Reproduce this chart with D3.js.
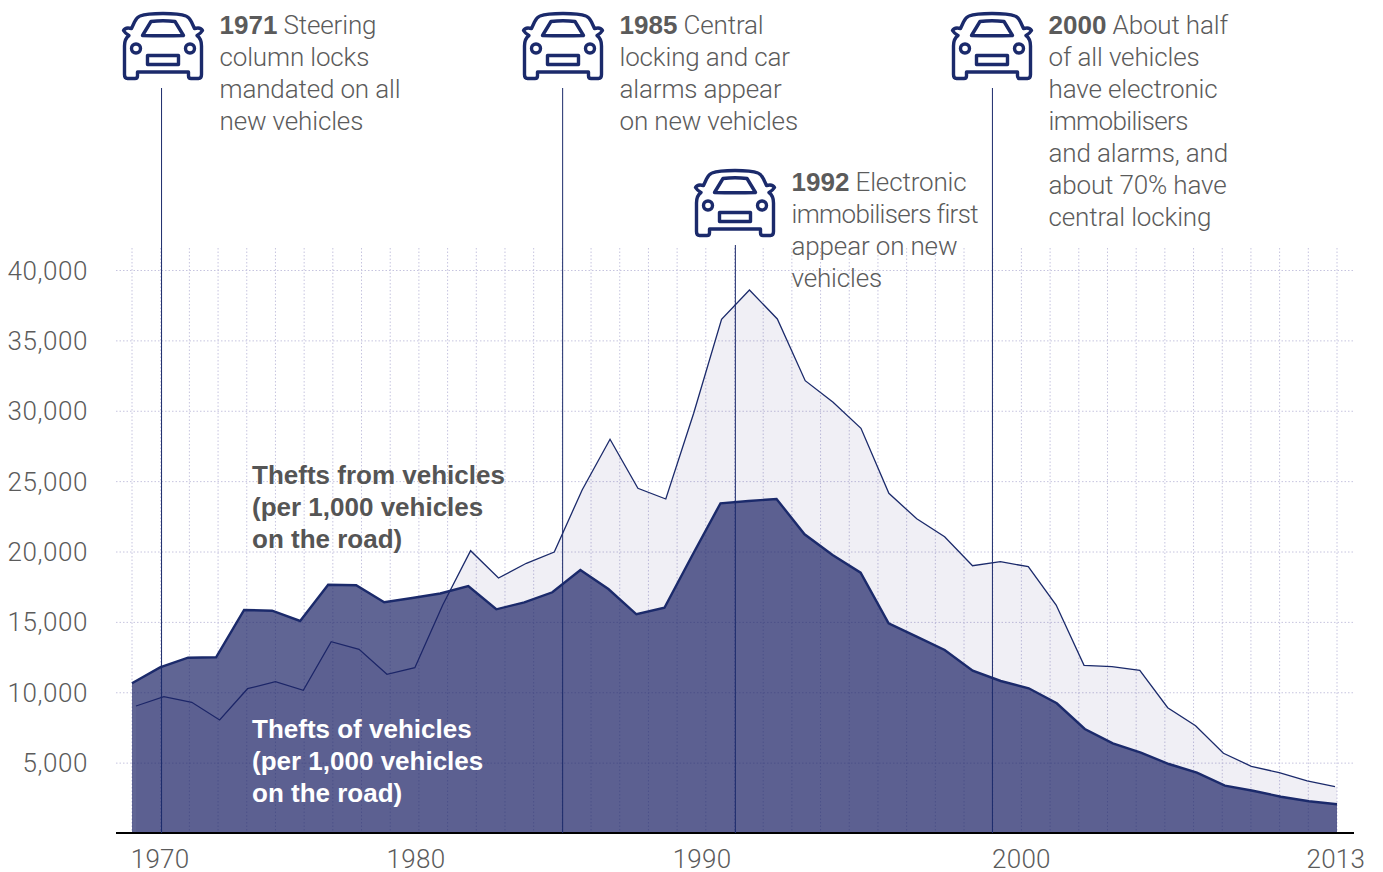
<!DOCTYPE html>
<html>
<head>
<meta charset="utf-8">
<script src="https://cdnjs.cloudflare.com/ajax/libs/d3/7.8.5/d3.min.js"></script>
<style>
  body { margin: 0; background: #fff; }
  svg { display: block; }
  text { font-family: Roboto, "Liberation Sans", sans-serif; font-weight: 300; font-size: 26px; fill: #5b5b5b; }
  .bold { font-family: "Liberation Sans", sans-serif; font-weight: 700; letter-spacing: 0; }
</style>
</head>
<body>
<div id="chart"></div>
<script>
const years = d3.range(1970, 2014);

// thefts of vehicles
const theftsOf = [10640, 11770, 12455, 12483, 15844, 15794, 15063, 17642, 17599, 16391,
  16697, 17016, 17549, 15894, 16391, 17102, 18686, 17336, 15539, 16007,
  19752, 23425, 23589, 23731, 21223, 19752, 18494, 14899, 13947, 13002,
  11531, 10800, 10281, 9215, 7389, 6373, 5705, 4902, 4284, 3361,
  3005, 2579, 2252, 2039];

// thefts from vehicles
const theftsFrom = [9023, 9684, 9286, 8029, 10252, 10750, 10139, 13592, 13052, 11275,
  11745, 16200, 20057, 18118, 19162, 19965, 24370, 27972, 24491, 23731,
  29820, 36498, 38580, 36520, 32136, 30601, 28754, 24136, 22324, 21052,
  18992, 19276, 18921, 16199, 11915, 11816, 11553, 8903, 7624, 5663,
  4739, 4284, 3695, 3290];

const yTicks = [5000, 10000, 15000, 20000, 25000, 30000, 35000, 40000];

// the labels and event lines sit on the background grid, not on the series
const xLabels = ["1970", "1980", "1990", "2000", "2013"];
const xLabelSlots = [0.98, 9.9, 19.87, 31, 41.96];

const eventYears = ["1971", "1985", "1992", "2000"];
const eventSlots = [1.03, 15.01, 21.03, 29.99];
const eventText = [
  [" Steering", "column locks", "mandated on all", "new vehicles"],
  [" Central", "locking and car", "alarms appear", "on new vehicles"],
  [" Electronic", "immobilisers first", "appear on new", "vehicles"],
  [" About half", "of all vehicles", "have electronic", "immobilisers", "and alarms, and", "about 70% have", "central locking"]
];
const eventTop = [12, 12, 169, 12];
const eventIconLeft = [122, 522, 694, 951];

const fromLabel = ["Thefts from vehicles", "(per 1,000 vehicles", "on the road)"];
const ofLabel = ["Thefts of vehicles", "(per 1,000 vehicles", "on the road)"];

const navy = "#1b2a6b";
const areaColor = "#1d2466";
const lightColor = "#2a1a78";
const gridColor = "#c6c4df";
const carPath = "M41 1.5C30 1.5 22 2.5 18 4C15 5 14 7 12.5 10L9.5 16.5C6 15.5 3 15.5 1.5 18.5C3 21 5 22.5 7 23.5C3.500 26 2.5 30 2.5 34L2.5 62.500Q2.5 66.500 5.500 66.500L13 66.500Q15.500 66.500 15.500 64L15.500 60L66.500 60L66.500 64Q66.500 66.500 69 66.500L76.500 66.500Q79.500 66.500 79.500 62.500L79.500 34C79.500 30 78.500 26 75 23.500C77 22.500 79 21 80.500 18.500C79 15.500 76 15.500 72.500 16.500L69.500 10C68 7 67 5 64 4C60 2.500 52 1.500 41 1.500Z";
const carGlass = "M29 9.500Q41 8 53 9.500L61.500 23.500Q41 24 20.500 23.500Z";

const svg = d3.select("#chart").append("svg")
  .attr("width", 1383)
  .attr("height", 872);

const y = d3.scaleLinear().domain([0, 40000]).range([833, 270]);
const xOf = d3.scalePoint().domain(years).range([132, 1337]);
const xFrom = d3.scalePoint().domain(years).range([136, 1335]);
const gridX = d3.scaleLinear().domain([0, 42]).range([132, 1337]);

// grid
svg.append("g").selectAll("line")
  .data(d3.range(43))
  .enter().append("line")
    .attr("x1", d => gridX(d))
    .attr("x2", d => gridX(d))
    .attr("y1", 248)
    .attr("y2", 833)
    .attr("stroke", gridColor)
    .attr("stroke-dasharray", "1.5 2");

const yAxis = d3.axisLeft(y)
  .tickValues(yTicks)
  .tickFormat(d3.format(","))
  .tickSize(0)
  .tickPadding(28);

const yGroup = svg.append("g")
  .attr("transform", "translate(116,0)")
  .call(yAxis);
yGroup.select(".domain").remove();
yGroup.selectAll("text")
  .attr("font-size", null)
  .attr("font-family", null)
  .attr("dy", "0.35em")
  .style("letter-spacing", "0.55px");
yGroup.selectAll(".tick").append("line")
  .attr("x1", 0)
  .attr("x2", 1238)
  .attr("stroke", gridColor)
  .attr("stroke-dasharray", "1.5 2");

// areas
const fromPoints = theftsFrom.map((v, i) => [xFrom(years[i]), y(v)]);
fromPoints.push([xOf(2013), y(theftsFrom[theftsFrom.length - 1])]);

svg.append("path")
  .attr("d", d3.area().x(d => d[0]).y0(y(0)).y1(d => d[1])(fromPoints))
  .attr("fill", lightColor)
  .attr("fill-opacity", 0.07);

svg.append("path")
  .attr("d", d3.line().x((d, i) => xFrom(years[i])).y(d => y(d))(theftsFrom))
  .attr("fill", "none")
  .attr("stroke", navy)
  .attr("stroke-width", 1.3);

svg.append("path")
  .attr("d", d3.area().x((d, i) => xOf(years[i])).y0(y(0)).y1(d => y(d))(theftsOf))
  .attr("fill", areaColor)
  .attr("fill-opacity", 0.7);

svg.append("path")
  .attr("d", d3.line().x((d, i) => xOf(years[i])).y(d => y(d))(theftsOf))
  .attr("fill", "none")
  .attr("stroke", navy)
  .attr("stroke-width", 2.4);

// baseline
svg.append("line")
  .attr("x1", 116)
  .attr("x2", 1354)
  .attr("y1", 833)
  .attr("y2", 833)
  .attr("stroke", "#000")
  .attr("stroke-width", 2);

// x labels
svg.append("g").selectAll("text")
  .data(xLabels)
  .enter().append("text")
    .attr("x", (d, i) => gridX(xLabelSlots[i]))
    .attr("y", 868)
    .attr("text-anchor", "middle")
    .style("letter-spacing", "0.3px")
    .text(d => d);

// events
eventYears.forEach((year, i) => {
  const top = eventTop[i];
  const left = eventIconLeft[i];

  svg.append("line")
    .attr("x1", gridX(eventSlots[i]))
    .attr("x2", gridX(eventSlots[i]))
    .attr("y1", top + 76)
    .attr("y2", 833)
    .attr("stroke", navy)
    .attr("stroke-width", 1);

  const car = svg.append("g")
    .attr("transform", `translate(${left},${top})`)
    .attr("fill", "none")
    .attr("stroke", navy)
    .attr("stroke-width", 3.4)
    .attr("stroke-linejoin", "round");
  car.append("path").attr("d", carPath);
  car.append("path").attr("d", carGlass);
  car.append("circle").attr("cx", 14).attr("cy", 36.5).attr("r", 4.5);
  car.append("circle").attr("cx", 68).attr("cy", 36.5).attr("r", 4.5);
  car.append("rect").attr("x", 25.5).attr("y", 43.5).attr("width", 31).attr("height", 9);

  const label = svg.append("g");
  eventText[i].forEach((line, j) => {
    const t = label.append("text")
      .attr("x", left + 97.5)
      .attr("y", top + 22 + j * 32)
      // Roboto's i and l run wide, pull those lines in
      .style("letter-spacing", line.includes("immobilisers") ? "-0.65px" : "-0.15px");
    if (j === 0) {
      t.append("tspan").attr("class", "bold").text(year);
      t.append("tspan").style("white-space", "pre").text(line);
    } else {
      t.text(line);
    }
  });
});

// series labels
function seriesLabel(lines, top, color) {
  svg.append("g").selectAll("text")
    .data(lines)
    .enter().append("text")
      .attr("class", "bold")
      .attr("x", 252)
      .attr("y", (d, i) => top + i * 32)
      .style("fill", color)
      .text(d => d);
}
seriesLabel(fromLabel, 484, "#555");
seriesLabel(ofLabel, 738, "#fff");
</script>
</body>
</html>
